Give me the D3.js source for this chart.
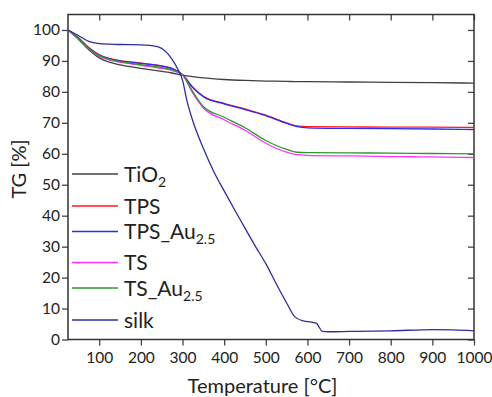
<!DOCTYPE html>
<html>
<head>
<meta charset="utf-8">
<script src="https://cdn.jsdelivr.net/npm/d3@7"></script>
<style>
  body { margin: 0; background: #fff; }
  text { font-family: Lato, "Open Sans", sans-serif; fill: #222; }
</style>
</head>
<body>
<div id="chart"></div>
<script>
// TG curves

// Step 1: data

var tempMain = [25, 50, 75, 100, 125, 150, 200, 250, 275, 300, 325, 350, 400, 450, 500, 550, 575, 600, 700, 800, 900, 1000];

var tio2   = [100, 97.0, 93.6, 91.0, 89.6, 88.7, 87.6, 86.6, 86.1, 85.4, 84.9, 84.5, 84.0, 83.7, 83.5, 83.4, 83.3, 83.3, 83.2, 83.1, 83.0, 82.8];
var tps    = [100, 97.5, 94.3, 92.0, 90.8, 90.1, 89.3, 88.4, 87.6, 85.6, 81.5, 78.6, 76.3, 74.5, 72.5, 70.0, 69.0, 68.8, 68.7, 68.6, 68.6, 68.5];
var tpsAu  = [100, 97.5, 94.2, 91.9, 90.7, 90.0, 89.2, 88.3, 87.5, 85.5, 81.3, 78.4, 76.1, 74.3, 72.3, 69.8, 68.8, 68.4, 68.2, 68.1, 68.0, 67.8];
var ts     = [100, 97.2, 93.9, 91.5, 90.3, 89.6, 88.6, 87.6, 86.9, 85.4, 79.5, 74.8, 71.0, 67.6, 63.4, 60.5, 59.7, 59.5, 59.3, 59.1, 59.0, 58.8];
var tsAu   = [100, 97.3, 94.0, 91.7, 90.5, 89.8, 88.8, 87.9, 87.1, 85.5, 80.0, 75.3, 71.8, 68.4, 64.3, 61.4, 60.5, 60.4, 60.3, 60.2, 60.1, 60.0];

var tempSilk = [25, 50, 75, 100, 125, 150, 200, 240, 260, 275, 290, 300, 310, 325, 350, 375, 400, 425, 450, 475, 500, 525, 550, 570, 590, 610, 622, 628, 636, 650, 700, 800, 900, 950, 1000];
var silk     = [100, 98.2, 96.3, 95.6, 95.4, 95.3, 95.2, 94.6, 93.0, 90.5, 87.0, 83.8, 77.5, 70.5, 61.8, 54.3, 48.0, 41.9, 36.0, 30.1, 24.5, 18.0, 11.8, 7.3, 6.0, 5.6, 5.2, 4.0, 2.6, 2.5, 2.6, 2.8, 3.2, 3.1, 2.8];

var seriesNames  = ["TiO2", "TPS", "TPS_Au2.5", "TS", "TS_Au2.5", "silk"];
var seriesColors = ["#404040", "#ff1a1a", "#2a2aff", "#ff33ff", "#2a992a", "#2e2e9c"];

var xTicks = [100, 200, 300, 400, 500, 600, 700, 800, 900, 1000];
var yTicks = [0, 10, 20, 30, 40, 50, 60, 70, 80, 90, 100];

// Step 2: dimensions

var svgWidth = 492;
var svgHeight = 397;

var margin = { top: 14.5, bottom: 57.5, left: 68, right: 18 };

var plotWidth = svgWidth - (margin.left + margin.right);
var plotHeight = svgHeight - (margin.top + margin.bottom);

var svg = d3.select("#chart")
    .append("svg")
    .attr("width", svgWidth)
    .attr("height", svgHeight);

var chartGroup = svg.append("g")
    .attr("transform", `translate(${margin.left}, ${margin.top})`);

// Step 3: scales

var xScale = d3.scaleLinear().domain([25, 1000]).range([0, plotWidth]);
var yScale = d3.scaleLinear().domain([0, 105]).range([plotHeight, 0]);

// Step 4: axes (outer ticks on bottom/left, inner mirror ticks top/right)

var bottomAxis = d3.axisBottom(xScale).tickValues(xTicks).tickSize(6).tickSizeOuter(0).tickPadding(6).tickFormat(d3.format("d"));
var leftAxis = d3.axisLeft(yScale).tickValues(yTicks).tickSize(6).tickSizeOuter(0).tickPadding(2);
var topAxis = d3.axisBottom(xScale).tickValues(xTicks).tickSize(6).tickSizeOuter(0).tickFormat("");
var rightAxis = d3.axisLeft(yScale).tickValues(yTicks).tickSize(6).tickSizeOuter(0).tickFormat("");

function styleAxis(g) {
    g.select(".domain").remove();
    g.selectAll(".tick line").attr("stroke", "#444").attr("stroke-width", 1.3);
    g.selectAll(".tick text").attr("fill", "#222").style("font-size", "15.5px");
}

chartGroup.append("g").attr("transform", `translate(0, ${plotHeight})`).call(bottomAxis).call(styleAxis);
chartGroup.append("g").call(leftAxis).call(styleAxis);
chartGroup.append("g").call(topAxis).call(styleAxis);
chartGroup.append("g").attr("transform", `translate(${plotWidth}, 0)`).call(rightAxis).call(styleAxis);

// frame
chartGroup.append("rect")
    .attr("width", plotWidth)
    .attr("height", plotHeight)
    .attr("fill", "none")
    .attr("stroke", "#333")
    .attr("stroke-width", 1.5);

// Step 5: curves

var allSeries = [
    { temps: tempMain, vals: tio2 },
    { temps: tempMain, vals: tps },
    { temps: tempMain, vals: tpsAu },
    { temps: tempMain, vals: ts },
    { temps: tempMain, vals: tsAu },
    { temps: tempSilk, vals: silk }
];

var line = d3.line()
    .x(d => xScale(d[0]))
    .y(d => yScale(d[1]))
    .curve(d3.curveMonotoneX);

allSeries.forEach(function(s, i) {
    chartGroup.append("path")
        .datum(s.temps.map((t, j) => [t, s.vals[j]]))
        .attr("fill", "none")
        .attr("stroke", seriesColors[i])
        .attr("stroke-width", 1.3)
        .attr("d", line);
});

// Step 6: legend

var legendY = [159.5, 191.5, 217, 248, 273.5, 305.5];

var legend = chartGroup.append("g").attr("transform", "translate(4, 0)");

seriesNames.forEach(function(name, i) {
    legend.append("line")
        .attr("x1", 0).attr("x2", 46)
        .attr("y1", legendY[i]).attr("y2", legendY[i])
        .attr("stroke", seriesColors[i])
        .attr("stroke-width", 1.3);

    var txt = legend.append("text")
        .attr("x", 52)
        .attr("y", legendY[i] + 7.5)
        .style("font-size", "21px");

    var m = name.match(/^(.*?)(2\.5|2)$/);
    if (m) {
        txt.append("tspan").text(m[1]);
        txt.append("tspan").attr("dy", 5).style("font-size", "14px").text(m[2]);
    } else {
        txt.text(name);
    }
});

// Step 7: axis titles

svg.append("text")
    .attr("x", 262.5)
    .attr("y", 393)
    .attr("text-anchor", "middle")
    .style("font-size", "20px")
    .text("Temperature [°C]");

svg.append("text")
    .attr("transform", "translate(26, 169) rotate(-90)")
    .attr("text-anchor", "middle")
    .style("font-size", "20px")
    .text("TG [%]");
</script>
</body>
</html>
